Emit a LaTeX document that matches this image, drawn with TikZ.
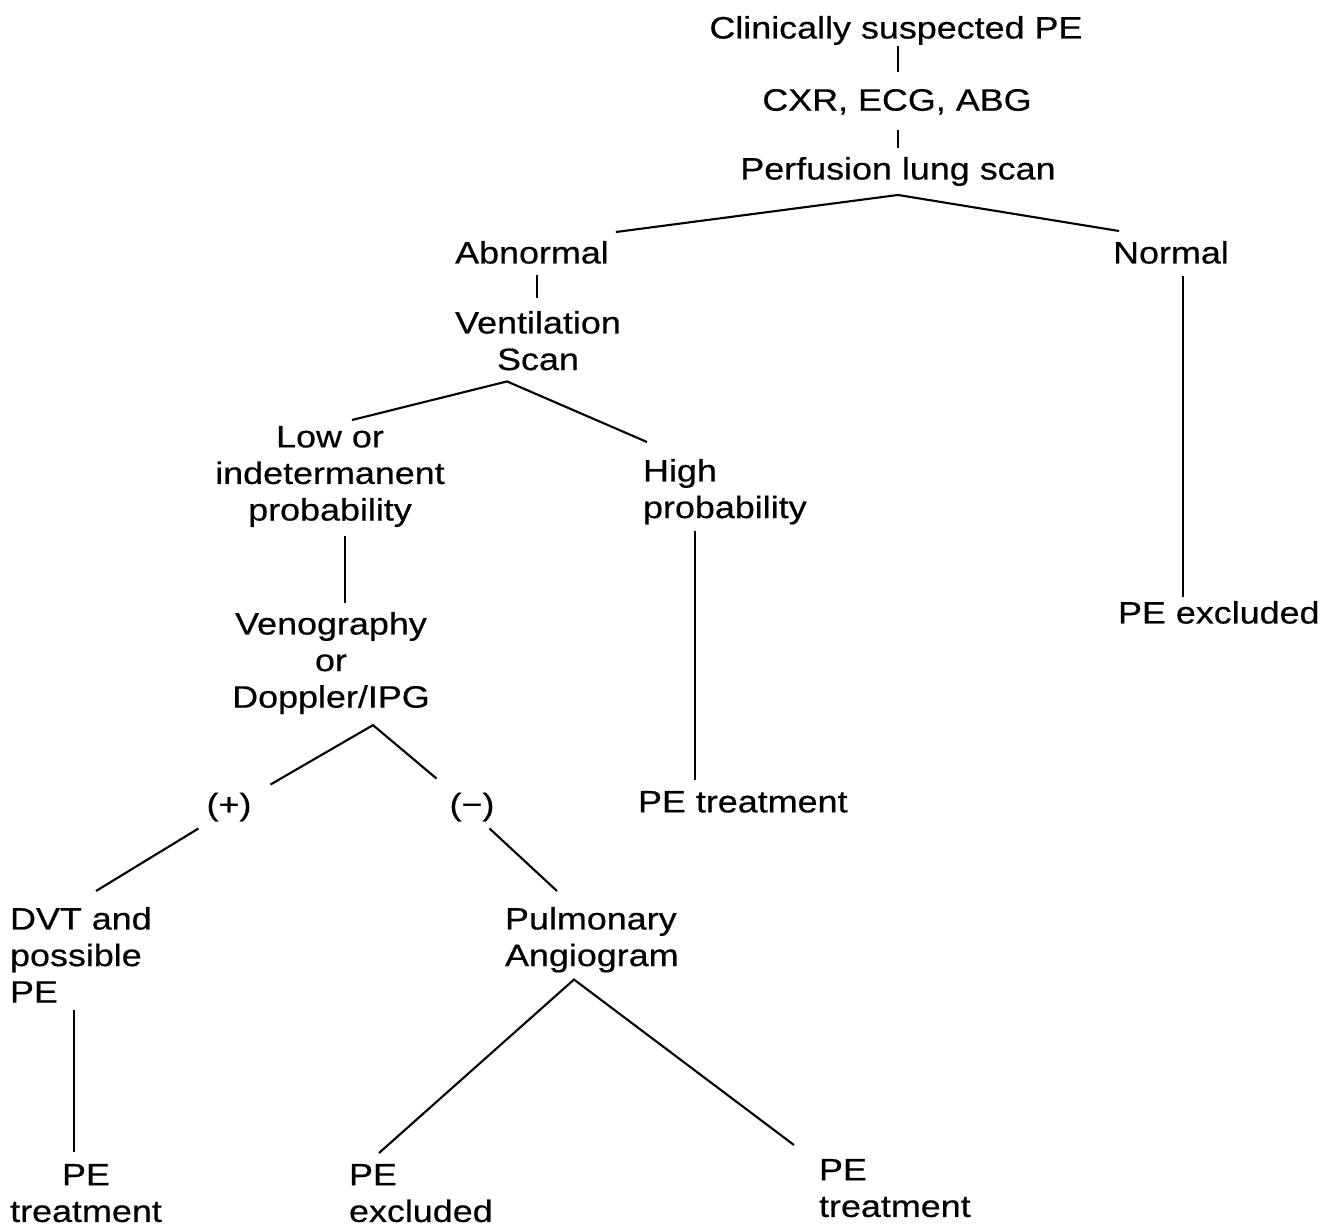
\documentclass[tikz,border=0pt]{standalone}
\usepackage{fontspec}
\setmainfont{Liberation Sans}[FakeStretch = 1.16, FakeBold = 0.5]
\usetikzlibrary{calc}

\tikzset{
	stage/.style = {inner sep = 0pt, font = \fontsize{8.8}{10.4}\selectfont}
}

\begin{document}
\begin{tikzpicture}[x = 0.01cm, y = -0.01cm, line width = 0.6pt]

	\useasboundingbox (0, 0) rectangle (1329, 1226);

	% First tests

	\node [stage, anchor = north] (suspect) at (896, 15) {Clinically suspected PE};
	\node [stage, anchor = north] (tests) at (897, 88) {CXR, ECG, ABG};
	\node [stage, anchor = north] (perfusion) at (898, 156) {Perfusion lung scan};

	% Abnormal scan

	\node [stage, anchor = north] (abnormal) at (532, 240) {Abnormal};
	\node [stage, anchor = north, align = center] (ventilation) at (538, 310) {Ventilation\\Scan};
	\node [stage, anchor = north, align = center] (low) at (330, 425) {Low or\\indetermanent\\probability};
	\node [stage, anchor = north west, align = left] (high) at (642, 458) {High\\probability};
	\node [stage, anchor = north west] (treathigh) at (637, 790) {PE treatment};

	\node [stage, anchor = north, align = center] (veno) at (331, 611) {Venography\\or\\Doppler/IPG};
	\node [stage, anchor = base] (positive) at (229, 815) {(+)};
	\node [stage, anchor = base] (negative) at (472, 815) {(−)};

	\node [stage, anchor = north west, align = left] (dvt) at (9, 906) {DVT and\\possible\\PE};
	\node [stage, anchor = north, align = center] (treatdvt) at (86, 1163) {PE\\treatment};

	\node [stage, anchor = north west, align = left] (angio) at (504, 906) {Pulmonary\\Angiogram};
	\node [stage, anchor = north west, align = left] (exclangio) at (348, 1163) {PE\\excluded};
	\node [stage, anchor = north west, align = left] (treatangio) at (818, 1158) {PE\\treatment};

	% Normal scan

	\node [stage, anchor = north] (normal) at (1171, 240) {Normal};
	\node [stage, anchor = north west] (exclnormal) at (1117, 600) {PE excluded};

	% Connecting lines

	\draw ($(suspect.south) + (2, 0)$) -- ($(tests.north) + (1, -16)$);
	\draw ($(tests.south) + (1, 14)$) -- ($(perfusion.north) + (0, -8)$);
	\draw ($(abnormal.north east) + (6, -8)$) -- ($(perfusion.south) + (0, 8)$) -- ($(normal.north west) + (7, -9)$);

	\draw ($(abnormal.south) + (5, 10)$) -- ($(ventilation.north) + (-1, -12)$);
	\draw ($(low.north) + (22, -5)$) -- ($(ventilation.south) + (-31, 10)$) -- ($(high.north west) + (5, -16)$);
	\draw ($(high.south west) + (53, 5)$) -- ($(treathigh.north west) + (58, -10)$);

	\draw ($(low.south) + (15, 8)$) -- ($(veno.north) + (14, -8)$);
	\draw ($(positive.north east) + (18, -7)$) -- ($(veno.south) + (42, 10)$) -- ($(negative.north west) + (-12, -13)$);
	\draw ($(positive.south west) + (-7, 6)$) -- ($(dvt.north west) + (87, -15)$);
	\draw ($(negative.south east) + (-6, 6)$) -- ($(angio.north west) + (53, -15)$);

	\draw ($(dvt.south west) + (65, 6)$) -- ($(treatdvt.north) + (-12, -11)$);
	\draw ($(exclangio.north west) + (31, -10)$) -- ($(angio.south west) + (70, 6)$) -- ($(treatangio.north west) + (-24, -13)$);

	\draw ($(normal.south) + (12, 11)$) -- ($(exclnormal.north west) + (66, -3)$);

\end{tikzpicture}
\end{document}
